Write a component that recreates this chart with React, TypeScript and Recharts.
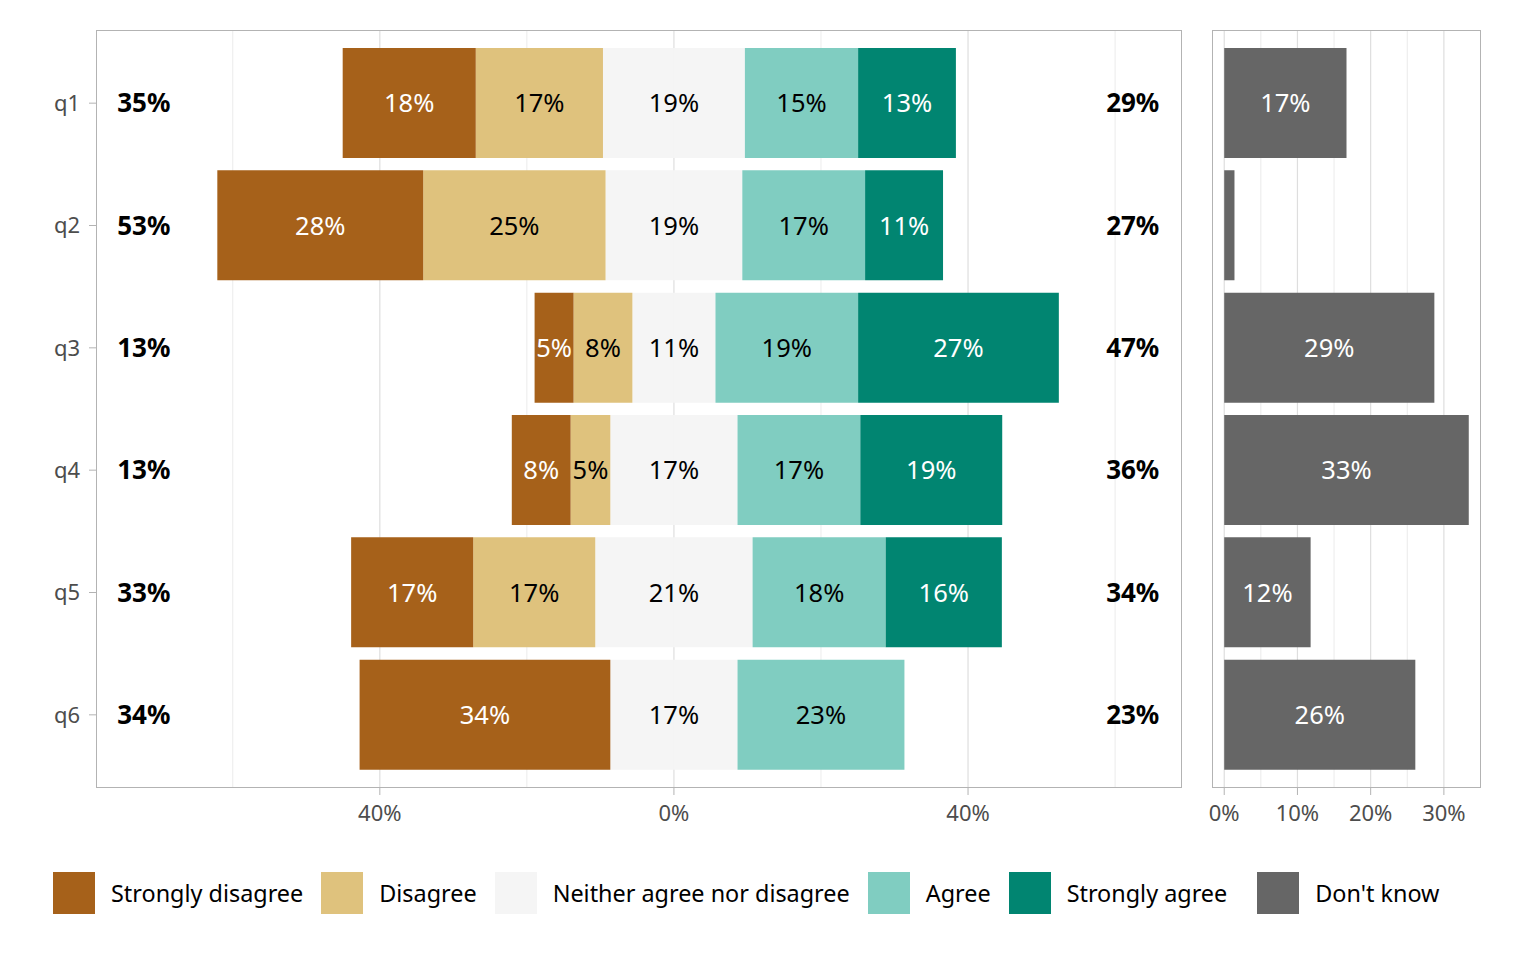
import { BarChart, Bar, XAxis, YAxis, CartesianGrid, LabelList, ReferenceDot } from "recharts";

// answers per question, in percent
const questions = ["q1", "q2", "q3", "q4", "q5", "q6"];
const stronglyDisagree = [18.1, 28.0, 5.3, 8.0, 16.6, 34.1];
const disagree = [17.3, 24.8, 8.0, 5.4, 16.6, 0];
const neither = [19.3, 18.6, 11.3, 17.3, 21.4, 17.3];
const agree = [15.4, 16.7, 19.4, 16.7, 18.1, 22.7];
const stronglyAgree = [13.3, 10.6, 27.3, 19.3, 15.8, 0];
const dontKnow = [16.7, 1.4, 28.7, 33.4, 11.8, 26.1];

const levels = ["Strongly disagree", "Disagree", "Neither agree nor disagree", "Agree", "Strongly agree", "Don't know"];

const mainTicks = [-40, 0, 40];
const mainMinor = [-60, -20, 20, 60];
const sideTicks = [0, 10, 20, 30];
const sideMinor = [5, 15, 25];

const COLORS = ["#a6611a", "#dfc27d", "#f5f5f5", "#80cdc1", "#018571", "#666666"];
const FONT = "'Noto Sans', 'Open Sans', sans-serif";

const rows = questions.map((q, i) => ({
  q,
  sd: -stronglyDisagree[i],
  d: -disagree[i],
  nLow: -neither[i] / 2,
  nHigh: neither[i] / 2,
  n: neither[i],
  a: agree[i],
  sa: stronglyAgree[i],
  dk: dontKnow[i],
  left: stronglyDisagree[i] + disagree[i],
  right: agree[i] + stronglyAgree[i],
}));

const pct = (v: number) => `${Math.round(Math.abs(v))}%`;

// label in the middle of a segment (or at its start for the split "neither" bar)
const barLabel = (color: string, atStart = false) => (props: any) => {
  const { x, y, width, height, value } = props;
  const v = Math.abs(Number(value));
  if (!v || v < 3) return null;
  const cx = atStart ? x : x + width / 2;
  return (
    <text x={cx} y={y + height / 2} dy="0.36em" textAnchor="middle" fill={color} fontSize={25.5}>
      {pct(v)}
    </text>
  );
};

const tickStyle = { fill: "#4d4d4d", fontSize: 22 };

function Legend() {
  return (
    <div style={{ position: "absolute", left: 53, top: 872, height: 42, display: "flex", alignItems: "center" }}>
      {levels.map((name, i) => (
        <div key={name} style={{ display: "flex", alignItems: "center", marginLeft: i === 0 ? 0 : i === 5 ? 30 : 18 }}>
          <div style={{ width: 42, height: 42, background: COLORS[i] }} />
          <span style={{ marginLeft: 16, fontSize: 23.4, color: "#000", whiteSpace: "nowrap" }}>{name}</span>
        </div>
      ))}
    </div>
  );
}

export default function App() {
  return (
    <div style={{ position: "absolute", left: 0, top: 0, width: 1536, height: 960, background: "#fff", fontFamily: FONT }}>
      <div style={{ position: "absolute", left: 0, top: 0 }}>
        <BarChart
          layout="vertical"
          width={1190}
          height={830}
          data={rows}
          stackOffset="sign"
          barSize={110}
          margin={{ top: 30, right: 8, bottom: 0, left: 0 }}
        >
          <CartesianGrid horizontal={false} verticalValues={mainMinor} stroke="#e6e6e6" strokeWidth={0.8} />
          <CartesianGrid horizontal={false} verticalValues={mainTicks} stroke="#dedede" strokeWidth={1.2} />
          <XAxis
            type="number"
            domain={[-78.6, 69.1]}
            ticks={mainTicks}
            interval={0}
            allowDataOverflow
            tickFormatter={(v: number) => pct(v)}
            axisLine={false}
            tickLine={{ stroke: "#b3b3b3" }}
            tickSize={7}
            tickMargin={10}
            tick={tickStyle}
            height={42}
          />
          <YAxis
            type="category"
            dataKey="q"
            width={96}
            padding={{ top: 12, bottom: 12 }}
            axisLine={false}
            tickLine={{ stroke: "#b3b3b3" }}
            tickSize={7}
            tickMargin={9}
            tick={tickStyle}
          />
          <Bar dataKey="nLow" stackId="s" fill={COLORS[2]} isAnimationActive={false} />
          <Bar dataKey="d" stackId="s" fill={COLORS[1]} isAnimationActive={false}>
            <LabelList dataKey="d" content={barLabel("#000")} />
          </Bar>
          <Bar dataKey="sd" stackId="s" fill={COLORS[0]} isAnimationActive={false}>
            <LabelList dataKey="sd" content={barLabel("#fff")} />
          </Bar>
          <Bar dataKey="nHigh" stackId="s" fill={COLORS[2]} isAnimationActive={false}>
            <LabelList dataKey="n" content={barLabel("#000", true)} />
          </Bar>
          <Bar dataKey="a" stackId="s" fill={COLORS[3]} isAnimationActive={false}>
            <LabelList dataKey="a" content={barLabel("#000")} />
          </Bar>
          <Bar dataKey="sa" stackId="s" fill={COLORS[4]} isAnimationActive={false}>
            <LabelList dataKey="sa" content={barLabel("#fff")} />
          </Bar>
          {rows.map((r) => (
            <ReferenceDot
              key={"l" + r.q}
              x={-72.1}
              y={r.q}
              r={0}
              fill="none"
              stroke="none"
              label={{ value: pct(r.left), position: "center", fill: "#000", fontSize: 26, fontWeight: 700 }}
            />
          ))}
          {rows.map((r) => (
            <ReferenceDot
              key={"r" + r.q}
              x={62.4}
              y={r.q}
              r={0}
              fill="none"
              stroke="none"
              label={{ value: pct(r.right), position: "center", fill: "#000", fontSize: 26, fontWeight: 700 }}
            />
          ))}
        </BarChart>
      </div>
      <div style={{ position: "absolute", left: 96, top: 30, width: 1086, height: 758, border: "1.2px solid #b3b3b3", boxSizing: "border-box", pointerEvents: "none" }} />

      <div style={{ position: "absolute", left: 1190, top: 0 }}>
        <BarChart
          layout="vertical"
          width={300}
          height={830}
          data={rows}
          barSize={110}
          margin={{ top: 30, right: 9, bottom: 0, left: 22 }}
        >
          <CartesianGrid horizontal={false} verticalValues={sideMinor} stroke="#e6e6e6" strokeWidth={0.8} />
          <CartesianGrid horizontal={false} verticalValues={sideTicks} stroke="#dedede" strokeWidth={1.2} />
          <XAxis
            type="number"
            domain={[-1.67, 35.07]}
            ticks={sideTicks}
            interval={0}
            allowDataOverflow
            tickFormatter={(v: number) => pct(v)}
            axisLine={false}
            tickLine={{ stroke: "#b3b3b3" }}
            tickSize={7}
            tickMargin={10}
            tick={tickStyle}
            height={42}
          />
          <YAxis type="category" dataKey="q" hide padding={{ top: 12, bottom: 12 }} />
          <Bar dataKey="dk" fill={COLORS[5]} isAnimationActive={false}>
            <LabelList dataKey="dk" content={barLabel("#fff")} />
          </Bar>
        </BarChart>
      </div>
      <div style={{ position: "absolute", left: 1212, top: 30, width: 269, height: 758, border: "1.2px solid #b3b3b3", boxSizing: "border-box", pointerEvents: "none" }} />

      <Legend />
    </div>
  );
}
